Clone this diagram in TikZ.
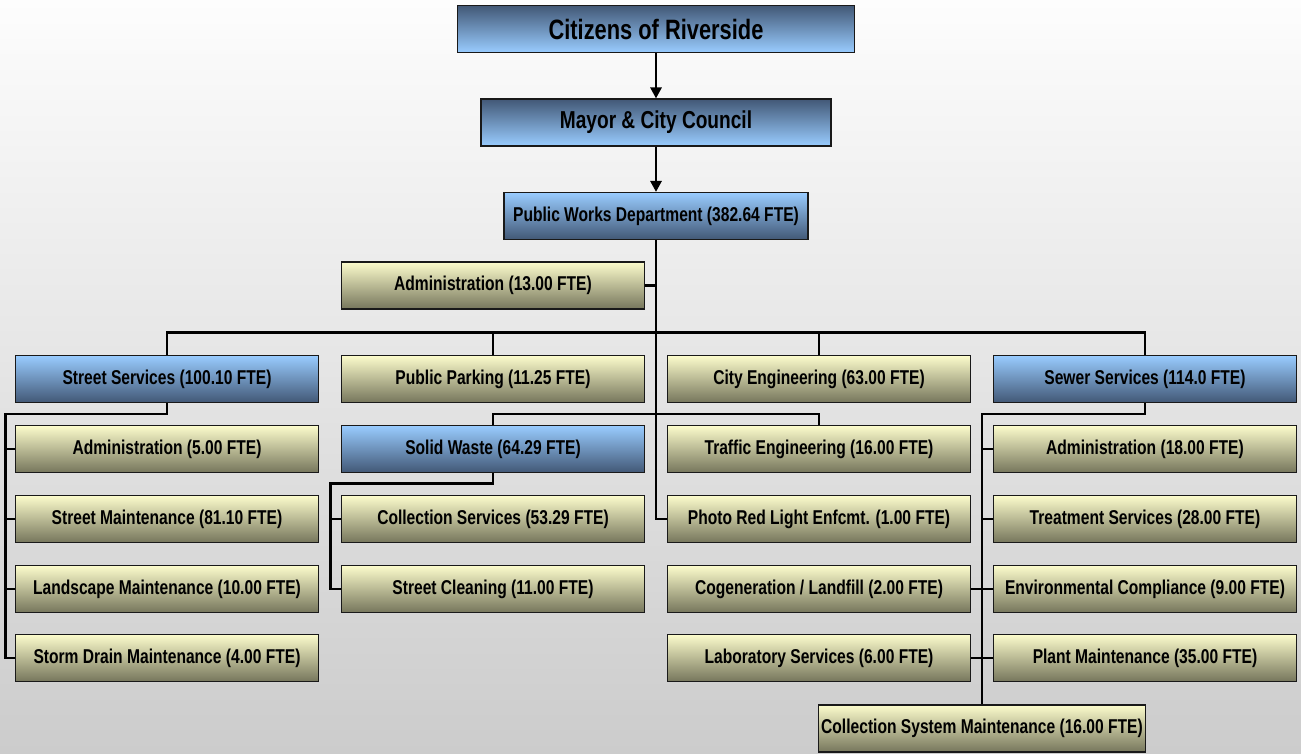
\documentclass[tikz,border=0pt]{standalone}
\usepackage{fontspec}
\setmainfont{Liberation Sans}[FakeStretch=0.78]
\usepackage{xcolor}
\usepackage{tikz}
\usetikzlibrary{arrows.meta}
\definecolor{unitBlueTop}{RGB}{153, 204, 255}
\definecolor{unitBlueBot}{RGB}{66, 88, 118}
\definecolor{unitYellowTop}{RGB}{252, 252, 204}
\definecolor{unitYellowBot}{RGB}{118, 118, 92}
\definecolor{bgTop}{RGB}{253, 253, 253}
\definecolor{bgBot}{RGB}{204, 204, 204}

\begin{document}
\begin{tikzpicture}[
    x=1pt, y=-1pt,
    every node/.style={draw=black!90, line width=1.1pt, align=center, inner sep=0pt,
        minimum width=303pt, minimum height=47pt, font=\fontsize{20}{22}\selectfont\bfseries},
    topUnit/.style={top color=unitBlueBot, bottom color=unitBlueTop},
    unit/.style={top color=unitBlueTop, bottom color=unitBlueBot},
    section/.style={top color=unitYellowTop, bottom color=unitYellowBot},
    link/.style={line width=2.8pt},
    arrowLink/.style={link, -{Triangle[width=11pt, length=11pt]}}
]
\shade[top color=bgTop, bottom color=bgBot] (0,0) rectangle (1301,753);
\useasboundingbox (0,0) rectangle (1301,753);

\node[topUnit, minimum width=397pt, font=\fontsize{28}{30}\selectfont\bfseries] (citizens) at (656,29) {Citizens of Riverside};
\node[topUnit, minimum width=350pt, font=\fontsize{24.5}{27}\selectfont\bfseries] (mayor) at (656,122.5) {Mayor \& City Council};
\node[unit, minimum width=304pt] (pwd) at (656,216) {Public Works Department (382.64 FTE)};
\node[section] (pwAdmin) at (493,285.5) {Administration (13.00 FTE)};

\node[unit] (street) at (167,379) {Street Services (100.10 FTE)};
\node[section] (parking) at (493,379) {Public Parking (11.25 FTE)};
\node[section] (cityEng) at (819,379) {City Engineering (63.00 FTE)};
\node[unit] (sewer) at (1145,379) {Sewer Services (114.0 FTE)};

\node[section] (streetAdmin) at (167,449) {Administration (5.00 FTE)};
\node[section] (streetMaint) at (167,519) {Street Maintenance (81.10 FTE)};
\node[section] (landscape) at (167,589) {Landscape Maintenance (10.00 FTE)};
\node[section] (stormDrain) at (167,658) {Storm Drain Maintenance (4.00 FTE)};

\node[unit] (solidWaste) at (493,449) {Solid Waste (64.29 FTE)};
\node[section] (collection) at (493,519) {Collection Services (53.29 FTE)};
\node[section] (cleaning) at (493,589) {Street Cleaning (11.00 FTE)};

\node[section] (traffic) at (819,449) {Traffic Engineering (16.00 FTE)};
\node[section] (photoRed) at (819,519) {Photo Red Light Enfcmt. (1.00 FTE)};
\node[section] (cogen) at (819,589) {Cogeneration / Landfill (2.00 FTE)};
\node[section] (lab) at (819,658) {Laboratory Services (6.00 FTE)};

\node[section] (sewerAdmin) at (1145,449) {Administration (18.00 FTE)};
\node[section] (treatment) at (1145,519) {Treatment Services (28.00 FTE)};
\node[section] (compliance) at (1145,589) {Environmental Compliance (9.00 FTE)};
\node[section] (plant) at (1145,658) {Plant Maintenance (35.00 FTE)};
\node[section, minimum width=327pt] (csm) at (982,728.5) {Collection System Maintenance (16.00 FTE)};

\coordinate (bus) at (656,332.5);
\coordinate (midBus) at (656,414);
\coordinate (streetRail) at (5.5,414);
\coordinate (wasteRail) at (330.5,483.5);
\coordinate (sewerRail) at (982,414);

\draw[arrowLink] (citizens) -- (mayor);
\draw[arrowLink] (mayor) -- (pwd);
\draw[link] (pwd) |- (photoRed);
\draw[link] (pwAdmin.east) -- (pwAdmin.east -| pwd.south);
\draw[link] (street) |- (bus) -| (sewer);
\draw[link] (parking) -- (parking |- bus);
\draw[link] (cityEng) -- (cityEng |- bus);

\draw[link] (street.south) |- (streetRail) |- (stormDrain.west);
\foreach \n in {streetAdmin, streetMaint, landscape}
    \draw[link] (\n.west) -- (\n.west -| streetRail);

\draw[link] (solidWaste) |- (midBus) -| (traffic);
\draw[link] (solidWaste.south) |- (wasteRail) |- (cleaning.west);
\draw[link] (collection.west) -- (collection.west -| wasteRail);

\draw[link] (sewer.south) |- (sewerRail) -- (csm.north);
\foreach \n in {sewerAdmin, treatment, compliance, plant}
    \draw[link] (\n.west) -- (\n.west -| sewerRail);
\foreach \n in {cogen, lab}
    \draw[link] (\n.east) -- (\n.east -| sewerRail);
\end{tikzpicture}
\end{document}
